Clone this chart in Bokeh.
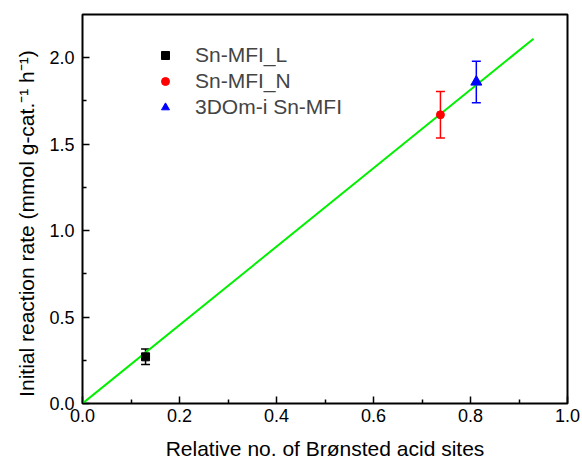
from bokeh.plotting import figure
from bokeh.models import (ColumnDataSource, Whisker, TeeHead, Legend, LegendItem,
                          FixedTicker, Range1d)
from bokeh.embed import file_html
from bokeh.resources import INLINE

# data
names = ["Sn-MFI_L", "Sn-MFI_N", "3DOm-i Sn-MFI"]
x_vals = [0.13, 0.738, 0.812]
y_vals = [0.27, 1.67, 1.86]
y_err = [0.045, 0.135, 0.12]
colors = ["black", "red", "blue"]
markers = ["square", "circle", "triangle"]
sizes = [8, 8, 11]

fit_x = [0.0, 0.93]
fit_y = [0.0, 2.11]

x_ticks = [0.0, 0.2, 0.4, 0.6, 0.8, 1.0]
x_minor = [0.1, 0.3, 0.5, 0.7, 0.9]
y_ticks = [0.0, 0.5, 1.0, 1.5, 2.0]
y_minor = [0.25, 0.75, 1.25, 1.75]

FONT = "Liberation Sans"

p = figure(width=582, height=463, output_backend="svg", toolbar_location=None,
           x_range=Range1d(0, 1.0), y_range=Range1d(0, 2.25),
           min_border_left=82, min_border_right=15, min_border_top=14,
           min_border_bottom=60)
p.grid.visible = False
p.outline_line_color = "black"
p.outline_line_width = 2
p.background_fill_color = "white"
p.border_fill_color = "white"

p.line(fit_x, fit_y, line_color="#00f000", line_width=2)

renderers = []
for i in range(3):
    src = ColumnDataSource(dict(x=[x_vals[i]], y=[y_vals[i]],
                                lo=[y_vals[i] - y_err[i]], hi=[y_vals[i] + y_err[i]]))
    w = Whisker(base="x", lower="lo", upper="hi", source=src, dimension="height",
                line_color=colors[i], line_width=1.5,
                upper_head=TeeHead(size=9, line_color=colors[i], line_width=1.5),
                lower_head=TeeHead(size=9, line_color=colors[i], line_width=1.5))
    p.add_layout(w)
    r = p.scatter("x", "y", source=src, marker=markers[i], size=sizes[i],
                  fill_color=colors[i], line_color=colors[i])
    renderers.append(r)

legend = Legend(items=[LegendItem(label=names[i], renderers=[renderers[i]]) for i in range(3)],
                location=(73, 284), border_line_color=None, background_fill_alpha=0,
                label_text_font=FONT, label_text_font_size="21px",
                label_height=20, glyph_height=20, glyph_width=20, spacing=2,
                padding=0, margin=0, label_standoff=20)
p.add_layout(legend, "center")

for ax in (p.xaxis[0], p.yaxis[0]):
    ax.axis_line_color = None
    ax.major_tick_in = 7
    ax.major_tick_out = 0
    ax.minor_tick_in = 4
    ax.minor_tick_out = 0
    ax.major_tick_line_width = 1.5
    ax.minor_tick_line_width = 1.5
    ax.major_label_text_font = FONT
    ax.major_label_text_font_size = "18px"
    ax.major_label_text_color = "black"
    ax.axis_label_text_font = FONT
    ax.axis_label_text_font_size = "21px"
    ax.axis_label_text_font_style = "normal"
    ax.axis_label_text_color = "black"

p.xaxis.ticker = FixedTicker(ticks=x_ticks, minor_ticks=x_minor)
p.yaxis.ticker = FixedTicker(ticks=y_ticks, minor_ticks=y_minor)
p.xaxis.axis_label = "Relative no. of Brønsted acid sites"
p.yaxis.axis_label = "Initial reaction rate (mmol g-cat.⁻¹ h⁻¹)" + "\u00a0" * 5
p.xaxis.major_label_standoff = 5
p.yaxis.major_label_standoff = 8
p.xaxis.axis_label_standoff = 12
p.yaxis.axis_label_standoff = 8
p.xaxis.major_label_overrides = {t: f"{t:.1f}" for t in x_ticks}
p.yaxis.major_label_overrides = {t: f"{t:.1f}" for t in y_ticks}

open("out.html", "w").write(file_html(p, INLINE))
